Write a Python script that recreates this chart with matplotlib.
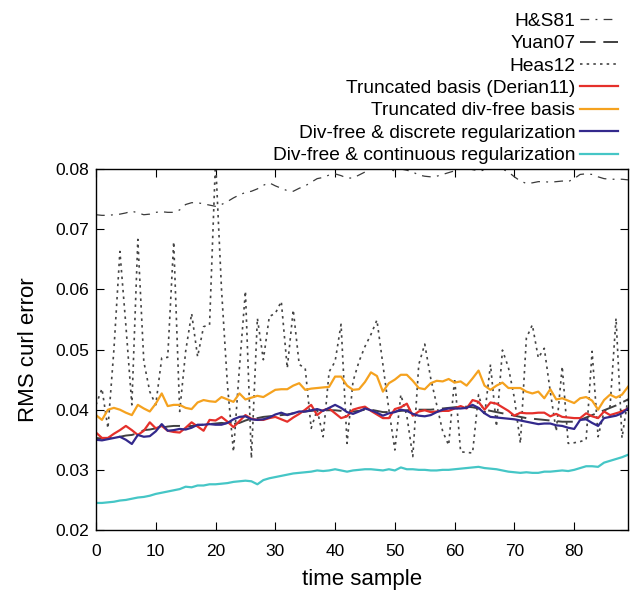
import numpy as np
import matplotlib
matplotlib.use("Agg")
import matplotlib.pyplot as plt

plt.rcParams['font.family'] = ['Liberation Sans', 'DejaVu Sans']

# Данные (оценены по картинке), индекс = номер кадра 0..89
t = np.arange(90)

hs81 = [0.0724, 0.0723, 0.0723, 0.0724, 0.0725, 0.0727, 0.0730, 0.0727, 0.0724, 0.0725,
        0.0728, 0.0729, 0.0728, 0.0728, 0.0732, 0.0741, 0.0744, 0.0744, 0.0742, 0.0740,
        0.0738, 0.0741, 0.0746, 0.0752, 0.0757, 0.0761, 0.0763, 0.0767, 0.0773, 0.0777,
        0.0772, 0.0768, 0.0764, 0.0763, 0.0768, 0.0772, 0.0778, 0.0784, 0.0786, 0.0790,
        0.0792, 0.0789, 0.0785, 0.0785, 0.0790, 0.0795, 0.0801, 0.0804, 0.0803, 0.0799,
        0.0797, 0.0800, 0.0798, 0.0795, 0.0790, 0.0788, 0.0787, 0.0788, 0.0791, 0.0794,
        0.0797, 0.0800, 0.0802, 0.0799, 0.0797, 0.0798, 0.0800, 0.0802, 0.0800, 0.0795,
        0.0787, 0.0780, 0.0776, 0.0777, 0.0779, 0.0779, 0.0778, 0.0779, 0.0780, 0.0779,
        0.0784, 0.0791, 0.0792, 0.0791, 0.0787, 0.0784, 0.0783, 0.0783, 0.0783, 0.0782]

yuan07 = [0.0353, 0.0352, 0.0353, 0.0354, 0.0355, 0.0357, 0.0358, 0.0361, 0.0366, 0.0367,
          0.0369, 0.0370, 0.0372, 0.0373, 0.0373, 0.0372, 0.0373, 0.0374, 0.0375, 0.0376,
          0.0377, 0.0378, 0.0377, 0.0376, 0.0378, 0.0382, 0.0385, 0.0386, 0.0388, 0.0389,
          0.0390, 0.0391, 0.0392, 0.0394, 0.0395, 0.0397, 0.0398, 0.0399, 0.0399, 0.0399,
          0.0399, 0.0398, 0.0396, 0.0397, 0.0398, 0.0400, 0.0400, 0.0398, 0.0396, 0.0396,
          0.0397, 0.0398, 0.0399, 0.0400, 0.0400, 0.0400, 0.0400, 0.0401, 0.0402, 0.0403,
          0.0404, 0.0405, 0.0405, 0.0404, 0.0402, 0.0400, 0.0398, 0.0396, 0.0394, 0.0392,
          0.0390, 0.0388, 0.0386, 0.0385, 0.0384, 0.0383, 0.0382, 0.0381, 0.0380, 0.0380,
          0.0380, 0.0383, 0.0387, 0.0391, 0.0395, 0.0399, 0.0403, 0.0407, 0.0412, 0.0417]

heas12 = [0.0408, 0.0435, 0.0369, 0.0500, 0.0663, 0.0540, 0.0408, 0.0683, 0.0480, 0.0430,
          0.0408, 0.0486, 0.0487, 0.0679, 0.0397, 0.0497, 0.0560, 0.0488, 0.0538, 0.0541,
          0.0815, 0.0600, 0.0440, 0.0330, 0.0470, 0.0597, 0.0319, 0.0552, 0.0483, 0.0555,
          0.0560, 0.0580, 0.0469, 0.0566, 0.0475, 0.0469, 0.0369, 0.0400, 0.0355, 0.0463,
          0.0480, 0.0542, 0.0344, 0.0447, 0.0480, 0.0505, 0.0525, 0.0549, 0.0475, 0.0400,
          0.0333, 0.0425, 0.0390, 0.0322, 0.0475, 0.0509, 0.0452, 0.0408, 0.0364, 0.0341,
          0.0452, 0.0330, 0.0329, 0.0328, 0.0425, 0.0390, 0.0475, 0.0372, 0.0499, 0.0470,
          0.0419, 0.0344, 0.0519, 0.0541, 0.0486, 0.0502, 0.0430, 0.0364, 0.0472, 0.0344,
          0.0345, 0.0347, 0.0350, 0.0497, 0.0355, 0.0397, 0.0405, 0.0552, 0.0353, 0.0419]

derian11 = [0.0362, 0.0353, 0.0353, 0.0360, 0.0366, 0.0373, 0.0366, 0.0358, 0.0365, 0.0379,
            0.0369, 0.0373, 0.0365, 0.0363, 0.0362, 0.0370, 0.0379, 0.0372, 0.0365, 0.0383,
            0.0382, 0.0388, 0.0380, 0.0371, 0.0381, 0.0391, 0.0385, 0.0383, 0.0383, 0.0386,
            0.0388, 0.0384, 0.0380, 0.0387, 0.0393, 0.0400, 0.0408, 0.0391, 0.0399, 0.0402,
            0.0394, 0.0386, 0.0389, 0.0400, 0.0403, 0.0405, 0.0398, 0.0392, 0.0386, 0.0386,
            0.0401, 0.0404, 0.0410, 0.0390, 0.0397, 0.0399, 0.0396, 0.0397, 0.0398, 0.0398,
            0.0402, 0.0406, 0.0402, 0.0416, 0.0413, 0.0400, 0.0412, 0.0410, 0.0404, 0.0398,
            0.0390, 0.0395, 0.0394, 0.0394, 0.0395, 0.0395, 0.0389, 0.0393, 0.0388, 0.0387,
            0.0386, 0.0386, 0.0394, 0.0389, 0.0386, 0.0397, 0.0391, 0.0394, 0.0397, 0.0402]

divfree_basis = [0.0391, 0.0383, 0.0400, 0.0403, 0.0400, 0.0395, 0.0391, 0.0408, 0.0402, 0.0397,
                 0.0410, 0.0427, 0.0406, 0.0408, 0.0408, 0.0403, 0.0401, 0.0412, 0.0416, 0.0414,
                 0.0413, 0.0421, 0.0417, 0.0413, 0.0427, 0.0417, 0.0420, 0.0423, 0.0421, 0.0427,
                 0.0433, 0.0434, 0.0434, 0.0440, 0.0444, 0.0433, 0.0435, 0.0436, 0.0437, 0.0438,
                 0.0455, 0.0455, 0.0440, 0.0433, 0.0434, 0.0446, 0.0462, 0.0456, 0.0430, 0.0444,
                 0.0450, 0.0458, 0.0458, 0.0448, 0.0436, 0.0434, 0.0444, 0.0448, 0.0447, 0.0451,
                 0.0445, 0.0447, 0.0440, 0.0452, 0.0465, 0.0440, 0.0433, 0.0440, 0.0445, 0.0436,
                 0.0436, 0.0436, 0.0430, 0.0427, 0.0430, 0.0419, 0.0434, 0.0417, 0.0419, 0.0415,
                 0.0411, 0.0419, 0.0421, 0.0415, 0.0400, 0.0416, 0.0425, 0.0420, 0.0425, 0.0438]

divfree_discrete = [0.0350, 0.0349, 0.0351, 0.0353, 0.0355, 0.0350, 0.0343, 0.0358, 0.0355, 0.0356,
                    0.0364, 0.0376, 0.0365, 0.0366, 0.0368, 0.0367, 0.0370, 0.0375, 0.0375, 0.0376,
                    0.0375, 0.0375, 0.0378, 0.0384, 0.0388, 0.0389, 0.0384, 0.0383, 0.0384, 0.0387,
                    0.0392, 0.0395, 0.0391, 0.0394, 0.0397, 0.0397, 0.0399, 0.0401, 0.0398, 0.0403,
                    0.0408, 0.0403, 0.0396, 0.0393, 0.0397, 0.0402, 0.0399, 0.0395, 0.0390, 0.0394,
                    0.0396, 0.0400, 0.0398, 0.0393, 0.0390, 0.0389, 0.0391, 0.0396, 0.0400, 0.0402,
                    0.0402, 0.0402, 0.0403, 0.0408, 0.0403, 0.0394, 0.0388, 0.0387, 0.0386, 0.0385,
                    0.0384, 0.0382, 0.0380, 0.0378, 0.0376, 0.0377, 0.0377, 0.0374, 0.0373, 0.0370,
                    0.0368, 0.0383, 0.0384, 0.0378, 0.0373, 0.0386, 0.0388, 0.0390, 0.0394, 0.0402]

divfree_continuous = [0.0245, 0.0245, 0.0246, 0.0247, 0.0249, 0.0250, 0.0252, 0.0254, 0.0255, 0.0257,
                      0.0260, 0.0262, 0.0264, 0.0266, 0.0268, 0.0272, 0.0271, 0.0274, 0.0274, 0.0276,
                      0.0276, 0.0277, 0.0278, 0.0280, 0.0281, 0.0282, 0.0281, 0.0276, 0.0283, 0.0286,
                      0.0288, 0.0290, 0.0292, 0.0294, 0.0295, 0.0296, 0.0297, 0.0299, 0.0298, 0.0299,
                      0.0301, 0.0299, 0.0297, 0.0299, 0.0300, 0.0301, 0.0301, 0.0300, 0.0299, 0.0301,
                      0.0299, 0.0304, 0.0301, 0.0301, 0.0300, 0.0300, 0.0299, 0.0299, 0.0300, 0.0300,
                      0.0301, 0.0302, 0.0303, 0.0304, 0.0305, 0.0303, 0.0302, 0.0301, 0.0299, 0.0297,
                      0.0296, 0.0295, 0.0296, 0.0295, 0.0295, 0.0297, 0.0297, 0.0298, 0.0299, 0.0298,
                      0.0300, 0.0303, 0.0306, 0.0306, 0.0305, 0.0312, 0.0315, 0.0318, 0.0321, 0.0325]

fig = plt.figure(figsize=(6.34, 5.97), dpi=100)
ax = fig.add_axes([0.1514, 0.1122, 0.8391, 0.6047])

ax.plot(t, hs81, color='#3a3a3a', lw=0.9, dashes=(7, 5, 1.5, 5), label='H&S81')
ax.plot(t, yuan07, color='#404040', lw=1.4, dashes=(8, 4), label='Yuan07')
ax.plot(t, heas12, color='#444444', lw=1.2, dashes=(1.5, 2.5), label='Heas12')
ax.plot(t, derian11, color='#e5302b', lw=1.6, label='Truncated basis (Derian11)')
ax.plot(t, divfree_basis, color='#f5a21f', lw=1.6, label='Truncated div-free basis')
ax.plot(t, divfree_discrete, color='#33298c', lw=1.6, label='Div-free & discrete regularization')
ax.plot(t, divfree_continuous, color='#45c6c6', lw=1.6, label='Div-free & continuous regularization')

ax.set_xlim(0, 89)
ax.set_ylim(0.02, 0.08)
ax.set_xticks(np.arange(0, 81, 10))
ax.set_yticks(np.arange(0.02, 0.0801, 0.01))
ax.yaxis.set_major_formatter(matplotlib.ticker.FormatStrFormatter('%.2f'))
ax.tick_params(direction='in', length=6, width=0.8, top=True, right=True,
               labelsize=12.5, pad=5)
ax.tick_params(axis='x', pad=10)
for s in ax.spines.values():
    s.set_linewidth(1.0)

ax.set_xlabel('time sample', fontsize=16, labelpad=7)
ax.set_ylabel('RMS curl error', fontsize=16, labelpad=12)

leg = fig.legend(loc='upper right', bbox_to_anchor=(0.995, 1.0), frameon=False,
                 markerfirst=False, fontsize=13.8, handlelength=2.0,
                 labelspacing=0.26, handletextpad=0.25, borderaxespad=0.25)

fig.savefig('out.png', dpi=100)
